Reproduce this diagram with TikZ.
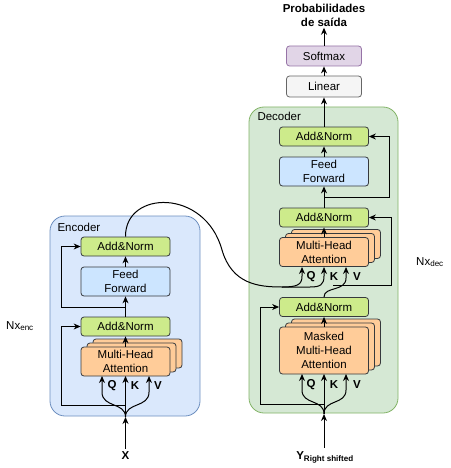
\documentclass[tikz,border=0pt]{standalone}
\usepackage{fontspec}
\setmainfont{Liberation Sans}
\usetikzlibrary{arrows.meta,shadows}
\definecolor{encfill}{HTML}{DAE8FC}
\definecolor{encline}{HTML}{6C8EBF}
\definecolor{decfill}{HTML}{D5E8D4}
\definecolor{decline}{HTML}{82B366}
\definecolor{boxline}{HTML}{36393D}
\definecolor{anfill}{HTML}{CDEB8B}
\definecolor{fffill}{HTML}{CCE5FF}
\definecolor{mhafill}{HTML}{FFCC99}
\definecolor{linfill}{HTML}{F5F5F5}
\definecolor{linline}{HTML}{666666}
\definecolor{smfill}{HTML}{E1D5E7}
\definecolor{smline}{HTML}{9673A6}

\begin{document}
\begin{tikzpicture}[x=1pt,y=-1pt,line width=1pt,>={Stealth[length=7pt,width=6pt]},
    font=\fontsize{11.5}{14}\selectfont]
    \tikzstyle{container}=[rounded corners=15pt,line width=0.8pt,inner sep=0pt]
    \tikzstyle{box}=[rectangle,rounded corners=3pt,draw=boxline,line width=0.8pt,minimum width=89pt,inner sep=0pt,align=center]
    \tikzstyle{addnorm}=[box,fill=anfill,minimum height=19pt]
    \tikzstyle{feed}=[box,fill=fffill,minimum height=29pt]
    \tikzstyle{mha}=[box,fill=mhafill,minimum height=29pt,
        double copy shadow={shadow xshift=6pt,shadow yshift=4pt,fill=mhafill,draw=boxline,line width=0.8pt}]
    \useasboundingbox (0,0) rectangle (450,468);

    % encoder
    \node (enc)[container,fill=encfill,draw=encline,minimum width=150pt,minimum height=200pt] at (125,316) {};
    \node [anchor=west,inner sep=0pt] at (57,227) {Encoder};
    \node (ean2)[addnorm] at (125.5,246.5) {Add\&Norm};
    \node (eff)[feed]     at (125.5,281.5) {Feed\\Forward};
    \node (ean1)[addnorm] at (125.5,326.5) {Add\&Norm};
    \node (emha)[mha]     at (125.5,361.5) {Multi-Head\\Attention};
    \node (xlab)[inner sep=3pt] at (125.5,456) {\textbf{X}};
    \node (nenc) at (20,326) {Nx\textsubscript{enc}};
    \coordinate (ein) at (125.5,417);
    \coordinate (eres1) at (125.5,405);
    \coordinate (eres2) at (125.5,307);
    \coordinate (eq) at (102,376);
    \coordinate (ek) at (125.5,376);
    \coordinate (ev) at (149,376);

    \draw [->] (xlab.north) -- (ein);
    \draw [->] (ein) .. controls (125.5,402) and (102,408) .. (102,392) -- (eq);
    \draw [->] (ein) -- (ek);
    \draw [->] (ein) .. controls (125.5,402) and (149,408) .. (149,392) -- (ev);
    \node at (112,386) {\textbf{Q}};
    \node at (135,386) {\textbf{K}};
    \node at (158,386) {\textbf{V}};
    \draw [->] (eres1) -- (61,405) |- (ean1.west);
    \draw [->] (emha.north) -- (ean1.south);
    \draw [->] (ean1.north) -- (eff.south);
    \draw [->] (eres2) -- (61,307) |- (ean2.west);
    \draw [->] (eff.north) -- (ean2.south);

    % decoder
    \node (dec)[container,fill=decfill,draw=decline,minimum width=149pt,minimum height=306pt] at (323.5,260) {};
    \node [anchor=west,inner sep=0pt] at (257,116) {Decoder};
    \node (dan3)[addnorm] at (324,136.5) {Add\&Norm};
    \node (dff)[feed]     at (324,171.5) {Feed\\Forward};
    \node (dan2)[addnorm] at (324,217.5) {Add\&Norm};
    \node (dmha)[mha]     at (324,252) {Multi-Head\\Attention};
    \node (dan1)[addnorm] at (324,307) {Add\&Norm};
    \node (dmmha)[mha,minimum height=47pt] at (324,350.5) {Masked\\Multi-Head\\Attention};
    \node (ylab)[inner sep=3pt] at (325,457) {\textbf{Y\textsubscript{Right shifted}}};
    \node (ndec) at (430,262) {Nx\textsubscript{dec}};
    \node (linear)[box,fill=linfill,draw=linline,minimum width=75pt,minimum height=21pt] at (324,86.5) {Linear};
    \node (softmax)[box,fill=smfill,draw=smline,minimum width=75pt,minimum height=20pt] at (324,56) {Softmax};
    \node (prob)[align=center,inner sep=1pt,font=\fontsize{11.5}{14}\selectfont\bfseries] at (324,15) {Probabilidades\\de saída};
    \coordinate (din) at (324,414);
    \coordinate (dres1) at (324,404);
    \coordinate (dres2) at (333,285);
    \coordinate (dres3) at (324,197);
    \coordinate (dq) at (302,374);
    \coordinate (dk) at (324,374);
    \coordinate (dv) at (346,374);
    \coordinate (cq) at (302,267);
    \coordinate (ck) at (324,267);
    \coordinate (cv) at (346,267);
    \coordinate (cross) at (282,287);

    \draw [->] (ylab.north -| din) -- (din);
    \draw [->] (din) .. controls (324,399) and (302,405) .. (302,390) -- (dq);
    \draw [->] (din) -- (dk);
    \draw [->] (din) .. controls (324,399) and (346,405) .. (346,390) -- (dv);
    \node at (311,385) {\textbf{Q}};
    \node at (334,385) {\textbf{K}};
    \node at (357,385) {\textbf{V}};
    \draw [->] (dres1) -- (260,404) |- (dan1.west);
    \draw [->] (dmmha.north) -- (dan1.south);

    % encoder output into the decoder
    \draw (ean2.north) .. controls (125,190) and (205,188) .. (222,250) .. controls (232,284) and (258,287) .. (cross);
    \draw [->] (cross) .. controls (297,287) and (302,285) .. (302,276) -- (cq);
    \draw [->] (cross) -- (310,287) .. controls (320,287) and (324,285) .. (324,276) -- (ck);
    \node at (311,277) {\textbf{Q}};
    \node at (334,277) {\textbf{K}};
    \node at (357,277) {\textbf{V}};
    \draw [->] (dan1.north) .. controls (324,286) and (346,292) .. (346,278) -- (cv);
    \draw [->] (dres2) -- (391,285) |- (dan2.east);
    \draw [->] (dmha.north) -- (dan2.south);
    \draw [->] (dan2.north) -- (dff.south);
    \draw [->] (dres3) -- (389,197) |- (dan3.east);
    \draw [->] (dff.north) -- (dan3.south);

    % output head
    \draw [->] (dan3.north) -- (linear.south);
    \draw [->] (linear.north) -- (softmax.south);
    \draw [->] (softmax.north) -- (prob.south);
\end{tikzpicture}
\end{document}
